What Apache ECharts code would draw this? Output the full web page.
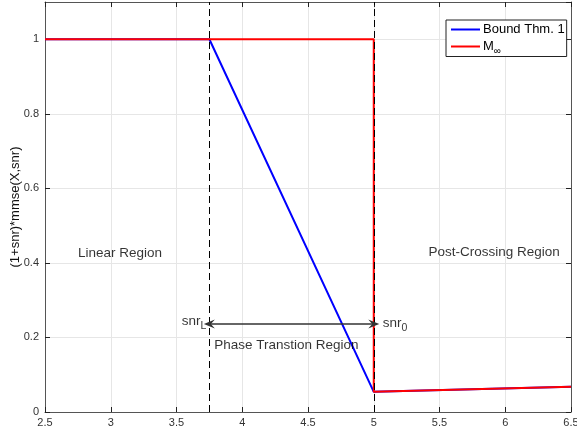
<!DOCTYPE html>
<html><head><meta charset="utf-8">
<script src="https://cdn.jsdelivr.net/npm/echarts@6/dist/echarts.min.js"></script>
<style>html,body{margin:0;padding:0;background:#fff}#c{width:577px;height:439px}</style>
</head><body><div id="c"></div>
<script>
// Data
var boundX = [2.5, 3.75, 5, 6.5];
var boundY = [1, 1, 0.054, 0.068];
var mInfX = [2.5, 5, 5, 6.5];
var mInfY = [1, 1, 0.054, 0.068];
var seriesNames = ['Bound Thm. 1', 'M∞'];
var vLinesX = [3.75, 5];               // snr_L, snr_0
var arrowY = 0.236;
var regionTexts = ['Linear Region', 'Post-Crossing Region', 'Phase Transtion Region'];
var regionX = [3.07, 5.915, 4.335];
var regionY = [0.425, 0.429, 0.18];
var xTicks = {min: 2.5, max: 6.5, interval: 0.5};
var yTicks = {min: 0, max: 1.1, interval: 0.2};

function zip(xs, ys){ return xs.map(function(x,i){return [x, ys[i]];}); }

var font = 'Liberation Sans, Arial, Helvetica, sans-serif';
var axisColor = '#555';
var chart = echarts.init(document.getElementById('c'), null, {renderer:'canvas'});

var arrowPath = 'path://M0,0L6,11L0,7L-6,11Z';

var option = {
  animation: false,
  backgroundColor: '#fff',
  grid: {left: 45, right: 6, top: 2, bottom: 27, containLabel: false, outerBoundsMode: 'none'},
  legend: {
    orient: 'vertical', left: 446, top: 20,
    data: seriesNames,
    icon: 'rect', itemWidth: 29, itemHeight: 2, itemGap: 4,
    backgroundColor: '#fff', borderColor: '#222', borderWidth: 1, borderRadius: 0,
    padding: [3, 2, 0, 5],
    textStyle: {fontFamily: font, fontSize: 13, color: '#000', padding: [0,0,0,-2],
      rich: {
        m: {fontFamily: font, fontSize: 13, color: '#000'},
        sub: {fontFamily: font, fontSize: 10, color: '#000', padding: [10,0,0,0]}
      }},
    formatter: function(n){ return n === 'M∞' ? '{m|M}{sub|∞}' : n; }
  },
  xAxis: [{
    type: 'value', min: xTicks.min, max: xTicks.max, interval: xTicks.interval,
    axisLine: {show: true, onZero: false, lineStyle: {color: axisColor, width: 1}},
    axisTick: {show: true, inside: true, length: 5, lineStyle: {color: '#222'}},
    axisLabel: {fontFamily: font, fontSize: 11, color: '#333', margin: 5},
    splitLine: {show: true, lineStyle: {color: '#e6e6e6', width: 1}}
  }, {
    type: 'value', position: 'top', min: xTicks.min, max: xTicks.max, interval: xTicks.interval,
    axisLine: {show: true, onZero: false, lineStyle: {color: axisColor, width: 1}},
    axisTick: {show: true, inside: true, length: 5, lineStyle: {color: '#222'}},
    axisLabel: {show: false}, splitLine: {show: false}
  }],
  yAxis: [{
    type: 'value', min: yTicks.min, max: yTicks.max, interval: yTicks.interval,
    name: '(1+snr)*mmse(X,snr)', nameLocation: 'middle', nameGap: 23, nameMoveOverlap: false,
    nameTextStyle: {fontFamily: font, fontSize: 13, color: '#111'},
    axisLine: {show: true, onZero: false, lineStyle: {color: axisColor, width: 1}},
    axisTick: {show: true, inside: true, length: 5, lineStyle: {color: '#222'}},
    axisLabel: {fontFamily: font, fontSize: 11, color: '#333', margin: 6, showMaxLabel: false},
    splitLine: {show: true, lineStyle: {color: '#e6e6e6', width: 1}}
  }, {
    type: 'value', position: 'right', min: yTicks.min, max: yTicks.max, interval: yTicks.interval,
    axisLine: {show: true, onZero: false, lineStyle: {color: axisColor, width: 1}},
    axisTick: {show: true, inside: true, length: 5, lineStyle: {color: '#222'}},
    axisLabel: {show: false}, splitLine: {show: false}
  }],
  series: [
    { // dashed verticals (underneath)
      type: 'line', data: [], z: 1, zlevel: 0, silent: true,
      markLine: {
        silent: true, symbol: ['none','none'], animation: false,
        label: {show: false},
        lineStyle: {color: '#000', type: [7, 4], width: 1},
        data: vLinesX.map(function(x){ return {xAxis: x}; })
      }
    },
    {
      type: 'line', data: [], z: 2, silent: true,
      markLine: {
        silent: true, animation: false, symbol: [arrowPath, arrowPath], symbolSize: [9, 11],
        label: {show: false},
        lineStyle: {color: '#333', type: 'solid', width: 1.5},
        data: [[{coord: [vLinesX[0], arrowY]}, {coord: [vLinesX[1], arrowY]}]]
      }
    },
    {
      name: seriesNames[0], type: 'line', data: zip(boundX, boundY), z: 3,
      showSymbol: false, symbol: 'none', color: '#0000ff',
      lineStyle: {color: '#0000ff', width: 2}
    },
    {
      name: seriesNames[1], type: 'line', data: zip(mInfX, mInfY), z: 4,
      showSymbol: false, symbol: 'none', color: '#ff0000',
      lineStyle: {color: '#ff0000', width: 2}
    },
    { // region text labels
      type: 'scatter', z: 5, silent: true, symbolSize: 0,
      data: regionTexts.map(function(t,i){ return {value: [regionX[i], regionY[i]], name: t}; }),
      label: {show: true, position: 'inside', formatter: '{b}',
        fontFamily: font, fontSize: 13.5, color: '#000'}
    },
    { // snr_L and snr_0 labels
      type: 'scatter', z: 5, silent: true, symbolSize: 0,
      data: [
        {value: [vLinesX[0], arrowY], name: 'L',
          label: {position: 'left', distance: 3, offset: [0, -3], formatter: '{a|snr}{s|L}'}},
        {value: [vLinesX[1], arrowY], name: '0',
          label: {position: 'right', distance: 9, offset: [0, -1], formatter: '{a|snr}{s|0}'}}
      ],
      label: {show: true, fontFamily: font, color: '#000',
        rich: {
          a: {fontFamily: font, fontSize: 13.5, color: '#000'},
          s: {fontFamily: font, fontSize: 10.5, color: '#000', padding: [10, 0, 0, 0]}
        }}
    }
  ]
};
chart.setOption(option);
</script></body></html>
